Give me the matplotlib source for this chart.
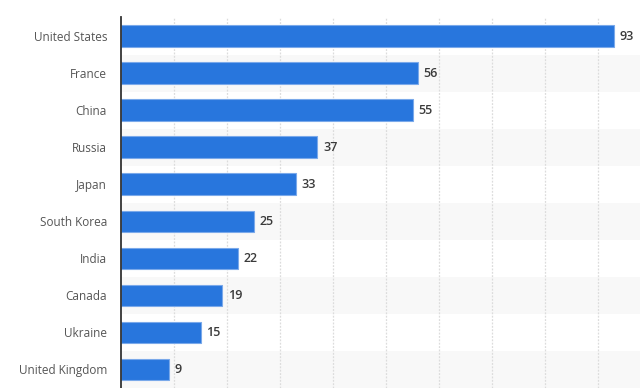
import matplotlib.pyplot as plt

countries = ["United States", "France", "China", "Russia", "Japan",
             "South Korea", "India", "Canada", "Ukraine", "United Kingdom"]
values = [93, 56, 55, 37, 33, 25, 22, 19, 15, 9]

plt.rcParams["font.family"] = ["Open Sans", "DejaVu Sans"]

fig = plt.figure(figsize=(6.4, 3.88), dpi=100)
ax = fig.add_axes([121 / 640, 0, 1 - 121 / 640, 1 - 17.5 / 388])

y = list(range(len(countries)))

# alternating row stripes
for i in y:
    if i % 2 == 1:
        ax.axhspan(i - 0.5, i + 0.5, color="#f8f8f8", zorder=0, lw=0)

ax.barh(y, values, height=0.58, color="#2876dd", edgecolor="#7aa9ea",
        linewidth=0.8, zorder=3)

for yi, v in zip(y, values):
    ax.text(v + 1.1, yi, str(v), va="center", ha="left", fontsize=9,
            fontweight="semibold", color="#3a3a3a", zorder=4)

ax.set_xlim(0, 97.9)
ax.set_ylim(len(countries) - 0.5, -0.5)
ax.set_yticks(y)
ax.set_yticklabels(countries, fontsize=8.5, color="#555555")
ax.tick_params(axis="y", length=0, pad=10)
ax.set_xticks(range(10, 100, 10))
ax.tick_params(axis="x", length=0, labelbottom=False)
ax.grid(axis="x", color="#dcdcdc", linestyle=(0, (1.5, 1.2)), linewidth=0.9, zorder=1)

for s in ["top", "right", "bottom"]:
    ax.spines[s].set_visible(False)
ax.spines["left"].set_color("#333333")
ax.spines["left"].set_linewidth(1.3)
ax.spines["left"].set_zorder(5)

fig.savefig("out.png", dpi=100)
